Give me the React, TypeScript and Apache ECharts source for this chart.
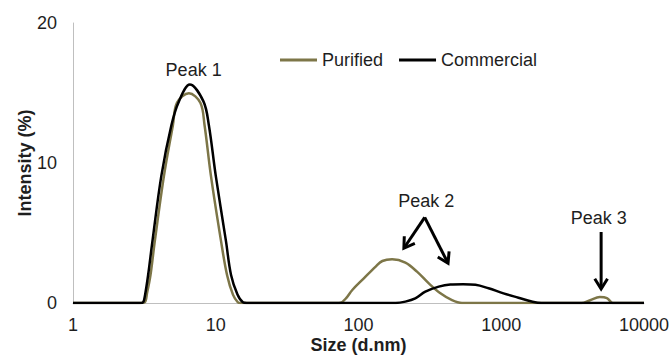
import React, { useEffect, useRef } from 'react';
import * as echarts from 'echarts';

const seriesNames = ['Purified', 'Commercial'];
const seriesColors = ['#7d7648', '#000000'];

const purifiedSize = [1, 2.9, 3.18, 3.3, 3.49, 3.74, 4.34, 5.01, 5.35, 6.49, 7.8, 8.35, 9.25, 10.9, 12.0, 13.2, 14.3, 15, 70, 75, 82, 90.5, 109, 132, 147, 172, 213, 257, 311, 375, 452, 531, 600, 2000, 3500, 3650, 4200, 4900, 5500, 6050, 6300, 10000];
const purifiedIntensity = [0, 0, 0.05, 0.7, 2.0, 4.4, 9.1, 12.7, 14.3, 14.98, 14.3, 12.7, 9.1, 4.4, 2.0, 0.6, 0.05, 0, 0, 0.02, 0.35, 0.93, 1.76, 2.6, 3.0, 3.12, 2.88, 2.24, 1.4, 0.69, 0.2, 0, 0, 0, 0, 0, 0.2, 0.42, 0.35, 0, 0, 0];

const commercialSize = [1, 2.95, 3.1, 3.2, 3.36, 3.6, 4.16, 4.89, 5.52, 6.58, 8.2, 8.95, 10, 11.8, 12.8, 14.2, 15.5, 16.5, 170, 182, 213, 250, 294, 365, 440, 540, 660, 815, 1037, 1320, 1634, 1910, 2050, 10000];
const commercialIntensity = [0, 0, 0.05, 0.6, 2.0, 4.4, 9.1, 12.7, 14.4, 15.6, 14.4, 12.7, 9.1, 4.4, 2.0, 0.6, 0.05, 0, 0, 0, 0.1, 0.33, 0.81, 1.17, 1.32, 1.34, 1.3, 1.05, 0.69, 0.38, 0.11, 0, 0, 0];

const xMin = 1;
const xMax = 10000;
const yMin = 0;
const yMax = 20;
const yInterval = 10;

// annotation anchors in data coordinates
const peakLabels = [
  { text: 'Peak 1', size: 7.0, value: 16.64 },
  { text: 'Peak 2', size: 298, value: 7.32 },
  { text: 'Peak 3', size: 4830, value: 6.1 },
];
const arrows = [
  { from: [291, 6.12], to: [208, 3.91] },
  { from: [291, 6.12], to: [424, 2.84] },
  { from: [5010, 5.07], to: [5010, 1.0] },
];

const FONT = '"Liberation Sans", Arial, Helvetica, sans-serif';
const TEXT = '#1e1e1e';
const FS = 18;

function zip(xs: number[], ys: number[]) {
  return xs.map((x, i) => [x, ys[i]]);
}

export default function App() {
  const ref = useRef<HTMLDivElement>(null);
  useEffect(() => {
    const chart = echarts.init(ref.current!, null, { renderer: 'svg' });
    chart.setOption({
      animation: false,
      grid: { left: 73, right: 26, top: 23, bottom: 58, containLabel: false },
      legend: {
        data: seriesNames,
        left: 275,
        top: 46,
        icon: 'rect',
        itemWidth: 37,
        itemHeight: 3,
        itemGap: 16,
        textStyle: { fontSize: FS, fontFamily: FONT, color: TEXT },
      },
      xAxis: {
        type: 'log',
        logBase: 10,
        min: xMin,
        max: xMax,
        name: 'Size (d.nm)',
        nameLocation: 'middle',
        nameGap: 33,
        nameMoveOverlap: false,
        nameTextStyle: { fontSize: FS, fontWeight: 'bold', fontFamily: FONT, color: TEXT },
        axisLine: { show: true, lineStyle: { color: '#bfbfbf', width: 1 } },
        axisTick: { show: false },
        splitLine: { show: false },
        minorTick: { show: false },
        axisLabel: {
          fontSize: FS,
          fontFamily: FONT,
          color: TEXT,
          margin: 13,
          formatter: (v: number) => String(Math.round(v)),
        },
      },
      yAxis: {
        type: 'value',
        min: yMin,
        max: yMax,
        interval: yInterval,
        name: 'Intensity (%)',
        nameLocation: 'middle',
        nameGap: 39,
        nameMoveOverlap: false,
        nameTextStyle: { fontSize: FS, fontWeight: 'bold', fontFamily: FONT, color: TEXT },
        axisLine: { show: true, lineStyle: { color: '#bfbfbf', width: 1 } },
        axisTick: { show: false },
        splitLine: { show: false },
        axisLabel: { fontSize: FS, fontFamily: FONT, color: TEXT, margin: 16 },
      },
      series: [
        {
          name: seriesNames[0],
          type: 'line',
          data: zip(purifiedSize, purifiedIntensity),
          smooth: 0.35,
          symbol: 'none',
          lineStyle: { color: seriesColors[0], width: 2.5 },
          itemStyle: { color: seriesColors[0] },
        },
        {
          name: seriesNames[1],
          type: 'line',
          data: zip(commercialSize, commercialIntensity),
          smooth: 0.35,
          symbol: 'none',
          lineStyle: { color: seriesColors[1], width: 2.5 },
          itemStyle: { color: seriesColors[1] },
        },
      ],
    });

    const px = (p: number[]) => chart.convertToPixel({ xAxisIndex: 0, yAxisIndex: 0 }, p) as number[];
    const elements: any[] = [];
    peakLabels.forEach((l) => {
      const [x, y] = px([l.size, l.value]);
      elements.push({
        type: 'text',
        x,
        y,
        silent: true,
        style: {
          text: l.text,
          fontSize: FS,
          fontFamily: FONT,
          fill: TEXT,
          align: 'center',
          verticalAlign: 'middle',
          textAlign: 'center',
          textVerticalAlign: 'middle',
        },
      });
    });
    arrows.forEach((a) => {
      const s = px(a.from);
      const t = px(a.to);
      const dx = s[0] - t[0];
      const dy = s[1] - t[1];
      const len = Math.hypot(dx, dy);
      const ux = dx / len;
      const uy = dy / len;
      const head = 12;
      const ang = (32 * Math.PI) / 180;
      const rot = (c: number, sn: number) => [t[0] + head * (ux * c - uy * sn), t[1] + head * (ux * sn + uy * c)];
      const p1 = rot(Math.cos(ang), Math.sin(ang));
      const p2 = rot(Math.cos(ang), -Math.sin(ang));
      elements.push({
        type: 'line',
        silent: true,
        shape: { x1: s[0], y1: s[1], x2: t[0] + ux * 1.5, y2: t[1] + uy * 1.5 },
        style: { stroke: '#000', lineWidth: 3 },
      });
      elements.push({
        type: 'polyline',
        silent: true,
        shape: { points: [p1, t, p2] },
        style: { stroke: '#000', lineWidth: 3, fill: null, lineJoin: 'miter' },
      });
    });
    chart.setOption({ graphic: { elements } });
    return () => chart.dispose();
  }, []);
  return <div ref={ref} style={{ position: 'absolute', left: 0, top: 0, width: 672, height: 361 }} />;
}
